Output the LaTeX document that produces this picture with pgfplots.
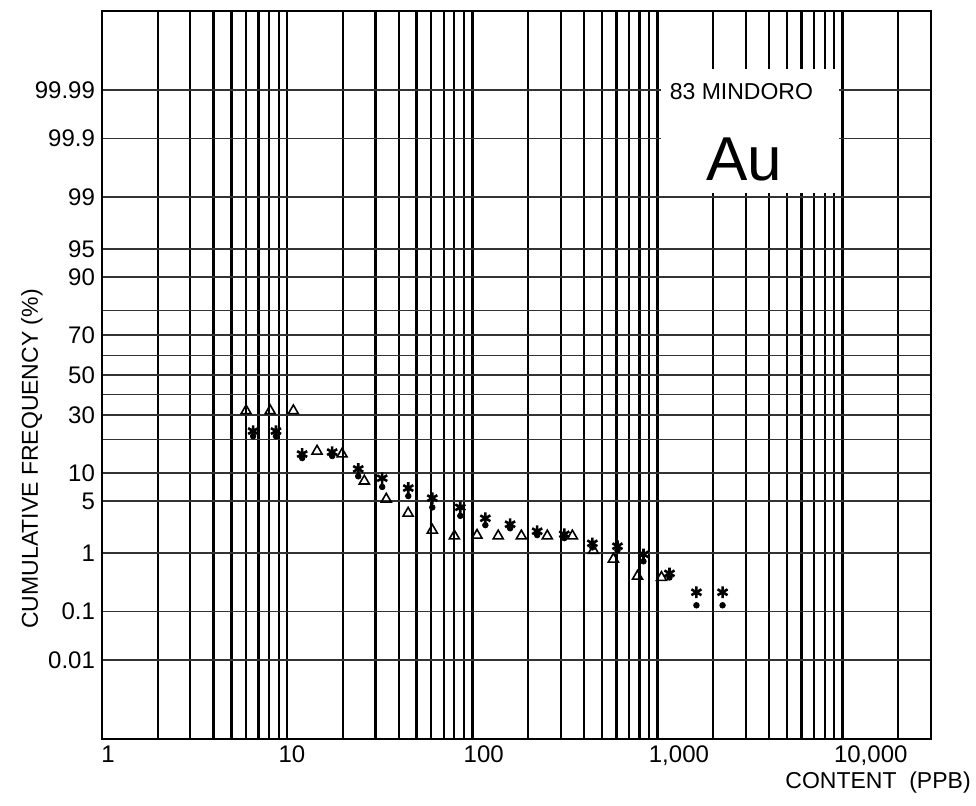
\documentclass[border=0pt]{standalone}
\usepackage{fontspec}
\setmainfont{Liberation Sans}
\usepackage{pgfplots}
\pgfplotsset{compat=1.18}

% cumulative frequency (%)
\pgfplotstableread{
x     p
6.0   32.0
8.1   32.0
10.8  32.0
14.5  16.0
19.8  15.1
26.1  8.3
34.3  5.25
45    3.56
60.8  2.14
80    1.78
106   1.82
138   1.78
184   1.78
254   1.78
347   1.78
451   1.10
578   0.81
780   0.43
1051  0.41
}\tri

\pgfplotstableread{
x     p
6.55  23.2
8.7   23.2
12.05 15.1
17.5  15.7
24.2  11.0
32.6  8.9
45.1  7.0
60.8  5.4
86.1  4.2
117.6 3.07
160   2.57
224   2.07
314   1.88
445   1.40
608   1.27
840   0.96
1161  0.48
1623  0.228
2246  0.228
}\stars

\pgfplotstableread{
x     p
6.55  21.2
8.7   21.2
12.05 13.9
17.5  14.5
24.2  9.3
32.6  7.2
45.1  5.7
60.8  4.2
86.1  3.3
117.6 2.5
160   2.27
224   1.83
314   1.66
445   1.22
608   1.10
840   0.75
1161  0.41
1623  0.132
2246  0.132
}\dots

\begin{document}
\begin{tikzpicture}[declare function={
    tq(\p)=sqrt(-2*ln(min(\p,1-\p)));
    zq(\t)=\t-(2.515517+0.802853*\t+0.010328*\t*\t)/(1+1.432788*\t+0.189269*\t*\t+0.001308*\t*\t*\t);
    probit(\p)=ifthenelse(\p<0.5,-1,1)*zq(tq(\p));
  }]
\path[use as bounding box] (-51pt,-33pt) rectangle (437pt,369.5pt);
\begin{axis}[
    at={(0pt,0pt)}, anchor=south west,
    scale only axis,
    width=414.5pt, height=364pt,
    xmode=log,
    xmin=1, xmax=30000,
    ymin=-4.753, ymax=4.753,
    xtick={1,10,100,1000,10000},
    xticklabels={\hspace*{4pt}1,10,100,{1,000},{10,000}},
    minor xtick={2,3,4,5,6,7,8,9,20,30,40,50,60,70,80,90,200,300,400,500,600,700,800,900,2000,3000,4000,5000,6000,7000,8000,9000,20000},
    ytick={-3.719,-3.090,-2.326,-1.645,-1.2816,-0.8416,-0.5244,-0.2533,0,0.2533,0.5244,0.8416,1.2816,1.645,2.326,3.090,3.719},
    yticklabels={0.01,0.1,1,5,10,,30,,50,,70,,90,95,99,99.9,99.99},
    tick style={draw=none},
    xmajorgrids, xminorgrids, ymajorgrids,
    major x grid style={black, line width=1.2pt},
    minor x grid style={black, line width=1.1pt},
    major y grid style={black!80, line width=0.8pt},
    axis line style={black, line width=1.4pt},
    ticklabel style={font=\fontsize{12pt}{13pt}\selectfont},
    xticklabel style={anchor=north west, inner xsep=0pt, xshift=-4.5pt},
    y filter/.expression={probit(\pgfmathresult/100)},
    clip=false,
]
\addplot[only marks, mark=triangle, mark size=2.9pt, mark options={line width=0.8pt}] table[x=x, y=p] {\tri};
\addplot[only marks, mark=asterisk, mark size=2.9pt, mark options={line width=1.3pt}] table[x=x, y=p] {\stars};
\addplot[only marks, mark=*, mark size=1.4pt] table[x=x, y=p] {\dots};

\fill[white] (axis cs:1045,2.37) rectangle (axis cs:9600,4.0);
\node[anchor=west, inner sep=0pt, font=\fontsize{11.5pt}{13pt}\selectfont] at (axis cs:1160,3.70) {83 MINDORO};
\node[inner sep=0pt, font=\fontsize{31pt}{31pt}\selectfont] at (axis cs:2950,2.82) {Au};
\end{axis}
\node[rotate=90, font=\fontsize{11.5pt}{13pt}\selectfont] at (-35pt,140pt) {CUMULATIVE FREQUENCY (\%)};
\node[anchor=west, inner sep=0pt, font=\fontsize{11.5pt}{13pt}\selectfont] at (341.5pt,-22pt) {CONTENT\ \ (PPB)};
\end{tikzpicture}
\end{document}
